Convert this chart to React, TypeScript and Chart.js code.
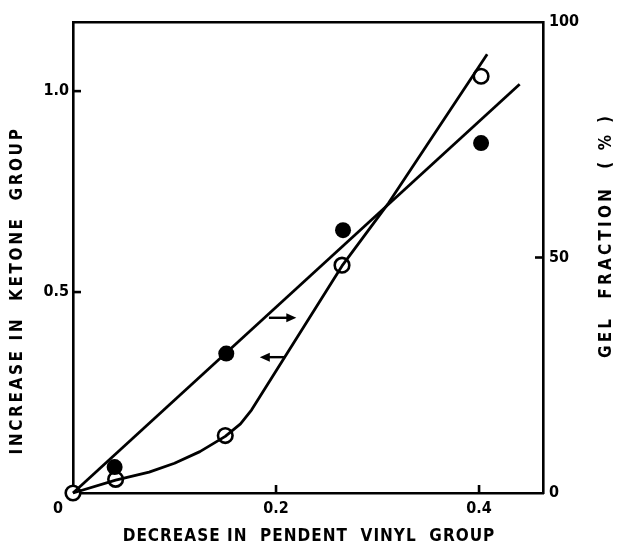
import React, { useEffect, useRef } from "react";
import { Chart, registerables } from "chart.js";

Chart.register(...registerables);

// ---- data ----
const xTickValues = [0, 0.2, 0.4];
const xTickLabels = ["0      ", "0.2", "0.4"];
const leftTickValues = [0, 0.5, 1.0];
const leftTickLabels = ["", "0.5", "1.0"];
const rightTickValues = [0, 50, 100];
const rightTickLabels = ["0", "50", "100"];

// filled circles: gel fraction (%) – right axis
const gelX = [0.041, 0.151, 0.266, 0.402];
const gelY = [5.5, 29.6, 55.8, 74.3];
// straight fitted line for gel fraction
const gelLineX = [0, 0.44];
const gelLineY = [0, 86.8];

// open circles: increase in ketone group – left axis
const ketoneX = [0, 0.042, 0.15, 0.265, 0.402];
const ketoneY = [0, 0.034, 0.143, 0.567, 1.037];
// drawn curve for ketone
const ketoneCurveX = [0, 0.042, 0.075, 0.1, 0.125, 0.15, 0.165, 0.176, 0.265, 0.311, 0.408];
const ketoneCurveY = [0, 0.032, 0.052, 0.074, 0.103, 0.141, 0.172, 0.207, 0.565, 0.722, 1.092];

// arrows (data units on the left axis): tail x, head x, y
const arrowTailX = [0.193, 0.209];
const arrowHeadX = [0.22, 0.184];
const arrowY = [0.436, 0.338];

const xTitle = "DECREASE IN  PENDENT  VINYL  GROUP";
const leftTitle = "INCREASE IN  KETONE  GROUP";
const rightTitle = "GEL  FRACTION  ( % )";

const FONT = '"DejaVu Sans Condensed", "DejaVu Sans", sans-serif';

const zip = (xs: number[], ys: number[]) => xs.map((x, i) => ({ x, y: ys[i] }));

const TICK = 8;

const decorPlugin = {
  id: "decor",
  afterDraw(chart: any) {
    const { ctx, chartArea, scales } = chart;
    const xs = scales.x;
    const ys = scales.y;
    const y2s = scales.y2;
    ctx.save();
    ctx.strokeStyle = "#000";
    ctx.fillStyle = "#000";
    ctx.lineWidth = 2.6;
    ctx.lineCap = "butt";
    // inward tick marks
    xTickValues.forEach((v) => {
      if (v === 0) return;
      const px = xs.getPixelForValue(v);
      ctx.beginPath();
      ctx.moveTo(px, chartArea.bottom);
      ctx.lineTo(px, chartArea.bottom - TICK);
      ctx.stroke();
    });
    leftTickValues.forEach((v) => {
      if (v === 0) return;
      const py = ys.getPixelForValue(v);
      ctx.beginPath();
      ctx.moveTo(chartArea.left, py);
      ctx.lineTo(chartArea.left + TICK, py);
      ctx.stroke();
    });
    rightTickValues.forEach((v) => {
      if (v === 0 || v === 100) return;
      const py = y2s.getPixelForValue(v);
      ctx.beginPath();
      ctx.moveTo(chartArea.right, py);
      ctx.lineTo(chartArea.right - TICK, py);
      ctx.stroke();
    });

    // arrows
    ctx.lineWidth = 2.4;
    for (let i = 0; i < arrowY.length; i++) {
      const x0 = xs.getPixelForValue(arrowTailX[i]);
      const x1 = xs.getPixelForValue(arrowHeadX[i]);
      const y = ys.getPixelForValue(arrowY[i]);
      const dir = Math.sign(x1 - x0);
      ctx.beginPath();
      ctx.moveTo(x0, y);
      ctx.lineTo(x1 - dir * 4, y);
      ctx.stroke();
      ctx.beginPath();
      ctx.moveTo(x1, y);
      ctx.lineTo(x1 - dir * 10, y - 4.5);
      ctx.lineTo(x1 - dir * 10, y + 4.5);
      ctx.closePath();
      ctx.fill();
    }
    // titles
    ctx.font = `bold 17px ${FONT}`;
    ctx.textAlign = "center";
    ctx.textBaseline = "middle";
    (ctx as any).letterSpacing = "1px";
    ctx.fillText(xTitle, (chartArea.left + chartArea.right) / 2 + 1, chartArea.bottom + 44);

    ctx.save();
    (ctx as any).letterSpacing = "2.6px";
    ctx.translate(chartArea.left - 55, (chartArea.top + chartArea.bottom) / 2 + 33);
    ctx.rotate(-Math.PI / 2);
    ctx.fillText(leftTitle, 0, 0);
    ctx.restore();

    ctx.save();
    (ctx as any).letterSpacing = "3.2px";
    ctx.translate(chartArea.right + 64, (chartArea.top + chartArea.bottom) / 2 - 22);
    ctx.rotate(-Math.PI / 2);
    ctx.fillText(rightTitle, 0, 0);
    ctx.restore();

    ctx.restore();
  },
};

export default function App() {
  const ref = useRef<HTMLCanvasElement | null>(null);
  useEffect(() => {
    document.body.style.margin = "0";
    const canvas = ref.current!;
    const tickFont = { family: FONT, size: 16, weight: "bold" as const };
    const axisBorder = { display: true, color: "#000", width: 2.6 };
    const grid = { display: false, drawTicks: false };
    const chart = new Chart(canvas, {
      type: "scatter",
      data: {
        datasets: [
          {
            type: "line",
            data: zip(gelLineX, gelLineY),
            yAxisID: "y2",
            borderColor: "#000",
            borderWidth: 2.8,
            pointRadius: 0,
            fill: false,
            clip: false,
          },
          {
            type: "line",
            data: zip(ketoneCurveX, ketoneCurveY),
            yAxisID: "y",
            borderColor: "#000",
            borderWidth: 2.8,
            pointRadius: 0,
            tension: 0,
            borderJoinStyle: "round",
            fill: false,
            clip: false,
          },
          {
            type: "scatter",
            data: zip(gelX, gelY),
            yAxisID: "y2",
            pointRadius: 8,
            pointBackgroundColor: "#000",
            pointBorderColor: "#000",
            pointBorderWidth: 0,
            clip: false,
          },
          {
            type: "scatter",
            data: zip(ketoneX, ketoneY),
            yAxisID: "y",
            pointRadius: 7.3,
            pointBackgroundColor: "#fff",
            pointBorderColor: "#000",
            pointBorderWidth: 2.6,
            clip: false,
          },
        ],
      },
      options: {
        responsive: false,
        animation: false,
        events: [],
        layout: { padding: { top: 22, left: 0, right: 0, bottom: 0 } },
        plugins: { legend: { display: false }, tooltip: { enabled: false } },
        scales: {
          x: {
            type: "linear",
            position: "bottom",
            min: 0,
            max: 0.463,
            border: axisBorder,
            grid,
            afterBuildTicks: (s: any) => {
              s.ticks = xTickValues.map((v) => ({ value: v }));
            },
            afterFit: (s: any) => {
              s.height = 55;
            },
            ticks: {
              color: "#000",
              font: tickFont,
              padding: 6,
              maxRotation: 0,
              autoSkip: false,
              callback: (v: any) => {
                const i = xTickValues.indexOf(Number(v));
                return i >= 0 ? xTickLabels[i] : "";
              },
            },
          },
          xTop: {
            type: "linear",
            position: "top",
            min: 0,
            max: 0.463,
            border: axisBorder,
            grid: { display: false, drawTicks: false },
            ticks: { display: false },
            afterFit: (s: any) => {
              s.height = 0;
            },
          },
          y: {
            type: "linear",
            position: "left",
            min: 0,
            max: 1.172,
            border: axisBorder,
            grid,
            afterBuildTicks: (s: any) => {
              s.ticks = leftTickValues.map((v) => ({ value: v }));
            },
            afterFit: (s: any) => {
              s.width = 73;
            },
            ticks: {
              color: "#000",
              font: tickFont,
              padding: 4,
              autoSkip: false,
              callback: (v: any) => {
                const i = leftTickValues.indexOf(Number(v));
                return i >= 0 ? leftTickLabels[i] : "";
              },
            },
          },
          y2: {
            type: "linear",
            position: "right",
            min: 0,
            max: 100,
            border: axisBorder,
            grid,
            afterBuildTicks: (s: any) => {
              s.ticks = rightTickValues.map((v) => ({ value: v }));
            },
            afterFit: (s: any) => {
              s.width = 75;
            },
            ticks: {
              color: "#000",
              font: tickFont,
              padding: 6,
              autoSkip: false,
              callback: (v: any) => {
                const i = rightTickValues.indexOf(Number(v));
                return i >= 0 ? rightTickLabels[i] : "";
              },
            },
          },
        },
      },
      plugins: [decorPlugin],
    } as any);
    return () => chart.destroy();
  }, []);
  return (
    <div style={{ width: 618, height: 548, background: "#fff" }}>
      <canvas ref={ref} width={618} height={548} style={{ display: "block" }} />
    </div>
  );
}
